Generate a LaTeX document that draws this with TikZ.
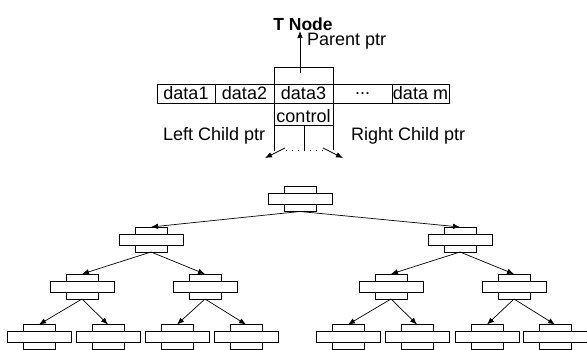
\documentclass[tikz,border=0pt]{standalone}
\usepackage{fontspec}
\setmainfont{Liberation Sans}
\usetikzlibrary{arrows.meta}
\newcommand\tnodebox[3]{%
  \node[wide] (#1) at (#2,#3) {};
  \node[narrow, anchor=south] (#1-t) at (#1.north) {};
  \node[narrow, anchor=north] (#1-b) at (#1.south) {};
}
\begin{document}
\begin{tikzpicture}[x=1pt,y=-1pt,
  box/.style={draw, line width=0.8pt, inner sep=0pt, outer sep=0pt},
  cell/.style={box, anchor=north west, minimum height=19pt, font=\fontsize{18}{19}\selectfont},
  wide/.style={box, minimum width=64pt, minimum height=11pt},
  narrow/.style={box, minimum width=32pt, minimum height=7pt},
  arr/.style={line width=0.7pt, -{Latex[length=7pt,width=5.5pt]}},
  lbl/.style={font=\fontsize{18}{19}\selectfont, inner sep=0pt, anchor=base west}
]
\useasboundingbox (0,0) rectangle (587,349);

% ---- T node detail ----
\node[font=\bfseries\fontsize{17.5}{19}\selectfont, inner sep=0pt] (title) at (303,24) {T Node};
\node[box, anchor=north west, minimum width=59pt, minimum height=17pt] (up) at (274,67) {};
\node[cell, minimum width=58pt] (d1) at (157,84) {data1};
\node[cell, minimum width=59pt] (d2) at (215,84) {data2};
\node[cell, minimum width=59pt] (d3) at (274,84) {data3};
\node[cell, minimum width=59pt] (dd) at (333,84) {...};
\node[cell, minimum width=57pt] (dm) at (392,84) {data m};
\node[box, anchor=north west, minimum width=59pt, minimum height=22pt,
      font=\fontsize{18}{19}\selectfont, text height=17pt, text depth=0pt] (ctl) at (274,103) {control};
\node[anchor=north west, inner sep=0pt, minimum width=30pt, minimum height=25pt] (lc) at (274,125) {};
\node[anchor=north west, inner sep=0pt, minimum width=29pt, minimum height=25pt] (rc) at (304,125) {};
\draw[line width=0.8pt] (lc.south west) -- (lc.north west) -- (rc.north east) -- (rc.south east);
\draw[line width=0.8pt] (rc.north west) -- (rc.south west);
\draw[line width=0.5pt, dash pattern=on 1pt off 5pt] (lc.south west) -- (rc.south east);

\coordinate (ptail) at (300,73);
\coordinate (phead) at (300,31);
\draw[arr] (ptail) -- (phead);
\node[lbl] (pp) at (307,45) {Parent ptr};
\node[lbl] (lcp) at (163,140) {Left Child ptr};
\node[lbl] (rcp) at (351,140) {Right Child ptr};
\coordinate (lt) at (285,148);
\coordinate (lh) at (265,158);
\coordinate (rt) at (323,148);
\coordinate (rh) at (343,158);
\draw[arr] (lt) -- (lh);
\draw[arr] (rt) -- (rh);

% ---- tree ----
\tnodebox{r}{300}{199}
\tnodebox{a}{151}{239.5}
\tnodebox{b}{460}{239.5}
\tnodebox{aa}{82}{286.5}
\tnodebox{ab}{205}{286.5}
\tnodebox{ba}{391}{286.5}
\tnodebox{bb}{514}{286.5}
\tnodebox{aaa}{39}{337}
\tnodebox{aab}{108}{337}
\tnodebox{aba}{177}{337}
\tnodebox{abb}{246}{337}
\tnodebox{baa}{348}{337}
\tnodebox{bab}{417}{337}
\tnodebox{bba}{487}{337}
\tnodebox{bbb}{555}{337}

\foreach \p/\c in {r/a, r/b, a/aa, a/ab, b/ba, b/bb,
                   aa/aaa, aa/aab, ab/aba, ab/abb, ba/baa, ba/bab, bb/bba, bb/bbb}
  \draw[arr] (\p-b.south) -- (\c-t.north);
\end{tikzpicture}
\end{document}
